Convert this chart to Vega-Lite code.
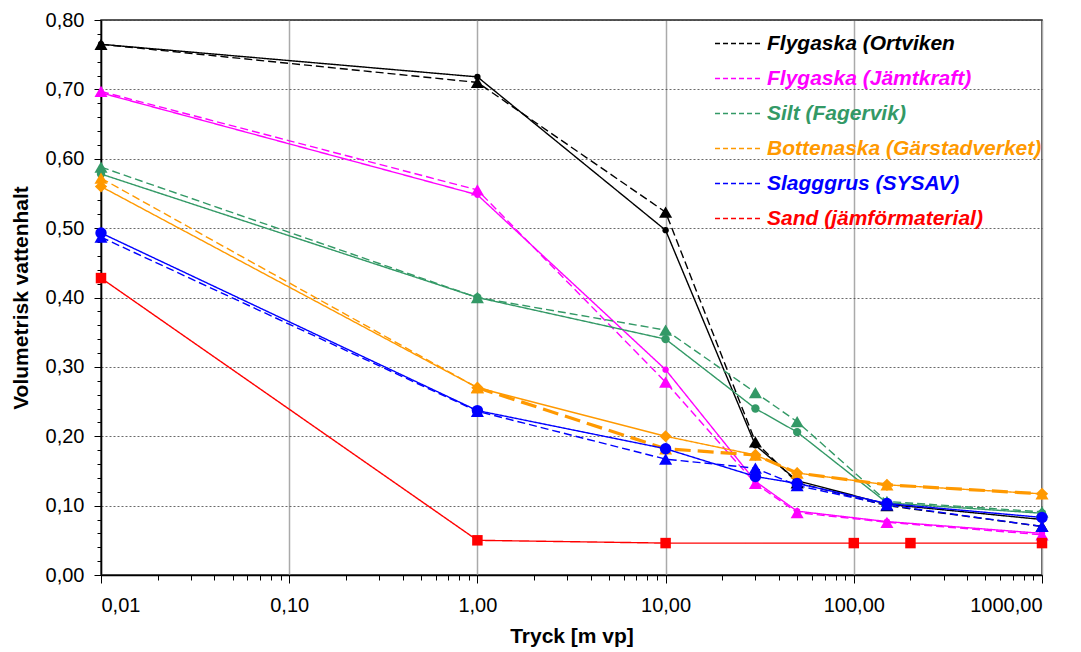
{
  "$schema": "https://vega.github.io/schema/vega-lite/v6.json",
  "width": 941,
  "height": 555,
  "autosize": "none",
  "padding": {"left": 101, "top": 20, "right": 39, "bottom": 77},
  "background": "white",
  "config": {"view": {"stroke": "#222", "strokeWidth": 1.5}, "font": "Liberation Sans"},
  "data": {"values": [
    {"m": "Flygaska (Ortviken", "l": "h", "tryck": 0.01, "theta": 0.765},
    {"m": "Flygaska (Ortviken", "l": "h", "tryck": 1, "theta": 0.718},
    {"m": "Flygaska (Ortviken", "l": "h", "tryck": 10, "theta": 0.497},
    {"m": "Flygaska (Ortviken", "l": "h", "tryck": 30, "theta": 0.187},
    {"m": "Flygaska (Ortviken", "l": "h", "tryck": 50, "theta": 0.136},
    {"m": "Flygaska (Ortviken", "l": "h", "tryck": 150, "theta": 0.102},
    {"m": "Flygaska (Ortviken", "l": "h", "tryck": 1000, "theta": 0.08},
    {"m": "Flygaska (Ortviken", "l": "s", "tryck": 0.01, "theta": 0.765},
    {"m": "Flygaska (Ortviken", "l": "s", "tryck": 1, "theta": 0.71},
    {"m": "Flygaska (Ortviken", "l": "s", "tryck": 10, "theta": 0.523},
    {"m": "Flygaska (Ortviken", "l": "s", "tryck": 30, "theta": 0.192},
    {"m": "Flygaska (Ortviken", "l": "s", "tryck": 50, "theta": 0.133},
    {"m": "Flygaska (Ortviken", "l": "s", "tryck": 150, "theta": 0.1},
    {"m": "Flygaska (Ortviken", "l": "s", "tryck": 1000, "theta": 0.07},
    {"m": "Flygaska (Jämtkraft)", "l": "h", "tryck": 0.01, "theta": 0.695},
    {"m": "Flygaska (Jämtkraft)", "l": "h", "tryck": 1, "theta": 0.548},
    {"m": "Flygaska (Jämtkraft)", "l": "h", "tryck": 10, "theta": 0.296},
    {"m": "Flygaska (Jämtkraft)", "l": "h", "tryck": 30, "theta": 0.135},
    {"m": "Flygaska (Jämtkraft)", "l": "h", "tryck": 50, "theta": 0.092},
    {"m": "Flygaska (Jämtkraft)", "l": "h", "tryck": 150, "theta": 0.077},
    {"m": "Flygaska (Jämtkraft)", "l": "h", "tryck": 1000, "theta": 0.06},
    {"m": "Flygaska (Jämtkraft)", "l": "s", "tryck": 0.01, "theta": 0.697},
    {"m": "Flygaska (Jämtkraft)", "l": "s", "tryck": 1, "theta": 0.555},
    {"m": "Flygaska (Jämtkraft)", "l": "s", "tryck": 10, "theta": 0.278},
    {"m": "Flygaska (Jämtkraft)", "l": "s", "tryck": 30, "theta": 0.132},
    {"m": "Flygaska (Jämtkraft)", "l": "s", "tryck": 50, "theta": 0.09},
    {"m": "Flygaska (Jämtkraft)", "l": "s", "tryck": 150, "theta": 0.076},
    {"m": "Flygaska (Jämtkraft)", "l": "s", "tryck": 1000, "theta": 0.058},
    {"m": "Silt (Fagervik)", "l": "h", "tryck": 0.01, "theta": 0.578},
    {"m": "Silt (Fagervik)", "l": "h", "tryck": 1, "theta": 0.4},
    {"m": "Silt (Fagervik)", "l": "h", "tryck": 10, "theta": 0.34},
    {"m": "Silt (Fagervik)", "l": "h", "tryck": 30, "theta": 0.24},
    {"m": "Silt (Fagervik)", "l": "h", "tryck": 50, "theta": 0.206},
    {"m": "Silt (Fagervik)", "l": "h", "tryck": 150, "theta": 0.104},
    {"m": "Silt (Fagervik)", "l": "h", "tryck": 1000, "theta": 0.089},
    {"m": "Silt (Fagervik)", "l": "s", "tryck": 0.01, "theta": 0.588},
    {"m": "Silt (Fagervik)", "l": "s", "tryck": 1, "theta": 0.4},
    {"m": "Silt (Fagervik)", "l": "s", "tryck": 10, "theta": 0.353},
    {"m": "Silt (Fagervik)", "l": "s", "tryck": 30, "theta": 0.263},
    {"m": "Silt (Fagervik)", "l": "s", "tryck": 50, "theta": 0.221},
    {"m": "Silt (Fagervik)", "l": "s", "tryck": 150, "theta": 0.106},
    {"m": "Silt (Fagervik)", "l": "s", "tryck": 1000, "theta": 0.091},
    {"m": "Bottenaska (Gärstadverket)", "l": "h", "tryck": 0.01, "theta": 0.56},
    {"m": "Bottenaska (Gärstadverket)", "l": "h", "tryck": 1, "theta": 0.27},
    {"m": "Bottenaska (Gärstadverket)", "l": "h", "tryck": 10, "theta": 0.2},
    {"m": "Bottenaska (Gärstadverket)", "l": "h", "tryck": 30, "theta": 0.173},
    {"m": "Bottenaska (Gärstadverket)", "l": "h", "tryck": 50, "theta": 0.147},
    {"m": "Bottenaska (Gärstadverket)", "l": "h", "tryck": 150, "theta": 0.13},
    {"m": "Bottenaska (Gärstadverket)", "l": "h", "tryck": 1000, "theta": 0.117},
    {"m": "Bottenaska (Gärstadverket)", "l": "s", "tryck": 0.01, "theta": 0.572},
    {"m": "Bottenaska (Gärstadverket)", "l": "s", "tryck": 1, "theta": 0.27},
    {"m": "Bottenaska (Gärstadverket)", "l": "t", "tryck": 1, "theta": 0.27},
    {"m": "Bottenaska (Gärstadverket)", "l": "t", "tryck": 10, "theta": 0.182},
    {"m": "Bottenaska (Gärstadverket)", "l": "t", "tryck": 30, "theta": 0.173},
    {"m": "Bottenaska (Gärstadverket)", "l": "t", "tryck": 50, "theta": 0.147},
    {"m": "Bottenaska (Gärstadverket)", "l": "t", "tryck": 150, "theta": 0.13},
    {"m": "Bottenaska (Gärstadverket)", "l": "t", "tryck": 1000, "theta": 0.117},
    {"m": "Slagggrus (SYSAV)", "l": "h", "tryck": 0.01, "theta": 0.493},
    {"m": "Slagggrus (SYSAV)", "l": "h", "tryck": 1, "theta": 0.237},
    {"m": "Slagggrus (SYSAV)", "l": "h", "tryck": 10, "theta": 0.182},
    {"m": "Slagggrus (SYSAV)", "l": "h", "tryck": 30, "theta": 0.142},
    {"m": "Slagggrus (SYSAV)", "l": "h", "tryck": 50, "theta": 0.132},
    {"m": "Slagggrus (SYSAV)", "l": "h", "tryck": 150, "theta": 0.103},
    {"m": "Slagggrus (SYSAV)", "l": "h", "tryck": 1000, "theta": 0.083},
    {"m": "Slagggrus (SYSAV)", "l": "s", "tryck": 0.01, "theta": 0.487},
    {"m": "Slagggrus (SYSAV)", "l": "s", "tryck": 1, "theta": 0.236},
    {"m": "Slagggrus (SYSAV)", "l": "s", "tryck": 10, "theta": 0.167},
    {"m": "Slagggrus (SYSAV)", "l": "s", "tryck": 30, "theta": 0.154},
    {"m": "Slagggrus (SYSAV)", "l": "s", "tryck": 50, "theta": 0.129},
    {"m": "Slagggrus (SYSAV)", "l": "s", "tryck": 150, "theta": 0.101},
    {"m": "Slagggrus (SYSAV)", "l": "s", "tryck": 1000, "theta": 0.07},
    {"m": "Sand (jämförmaterial)", "l": "h", "tryck": 0.01, "theta": 0.428},
    {"m": "Sand (jämförmaterial)", "l": "h", "tryck": 1, "theta": 0.05},
    {"m": "Sand (jämförmaterial)", "l": "h", "tryck": 10, "theta": 0.046},
    {"m": "Sand (jämförmaterial)", "l": "h", "tryck": 100, "theta": 0.046},
    {"m": "Sand (jämförmaterial)", "l": "h", "tryck": 200, "theta": 0.046},
    {"m": "Sand (jämförmaterial)", "l": "h", "tryck": 1000, "theta": 0.046}
  ]},
  "resolve": {"axis": {"x": "independent", "y": "independent"}},
  "encoding": {
    "color": {
      "field": "m",
      "type": "nominal",
      "scale": {
        "domain": ["Flygaska (Ortviken", "Flygaska (Jämtkraft)", "Silt (Fagervik)", "Bottenaska (Gärstadverket)", "Slagggrus (SYSAV)", "Sand (jämförmaterial)"],
        "range": ["#000000", "#FF00FF", "#339966", "#FF9900", "#0000FF", "#FF0000"]
      },
      "legend": {
        "orient": "none",
        "legendX": 613,
        "legendY": -1,
        "title": null,
        "symbolType": "stroke",
        "symbolSize": 2209,
        "symbolStrokeWidth": 1.5,
        "symbolDash": [5, 3],
        "labelFontSize": 21,
        "labelFont": "Liberation Sans",
        "labelFontStyle": "italic",
        "labelFontWeight": "bold",
        "labelOffset": 4,
        "labelLimit": 400,
        "rowPadding": 0,
        "encode": {
          "labels": {"update": {"fill": {"scale": "color", "field": "value"}}},
          "symbols": {"update": {"stroke": {"scale": "color", "field": "value"}, "fill": {"value": "transparent"}, "strokeDash": {"value": [5, 3]}, "strokeWidth": {"value": 1.5}}}
        }
      }
    }
  },
  "layer": [
    {
      "mark": {"type": "line"},
      "encoding": {
        "x": {
          "field": "tryck", "type": "quantitative",
          "scale": {"type": "log", "domain": [0.01, 1000], "nice": false},
          "axis": {
            "values": [0.01, 0.1, 1, 10, 100, 1000],
            "labelExpr": "datum.value < 0.05 ? '0,01' : replace(format(datum.value, '.2f'), '.', ',')",
            "labelFontSize": 20, "labelColor": "black", "labelPadding": 12,
            "tickSize": 8, "tickColor": "black", "domainColor": "black", "domainWidth": 1.5,
            "grid": true, "gridColor": "#aaa", "gridWidth": 1.5,
            "title": "Tryck [m vp]", "titleFontSize": 21, "titleFontWeight": "bold", "titleColor": "black", "titlePadding": 10
          }
        },
        "y": {
          "field": "theta", "type": "quantitative",
          "scale": {"domain": [0, 0.8], "nice": false, "zero": true},
          "axis": {
            "values": [0, 0.1, 0.2, 0.3, 0.4, 0.5, 0.6, 0.7, 0.8],
            "labelExpr": "replace(format(datum.value, '.2f'), '.', ',')",
            "labelFontSize": 20, "labelColor": "black", "labelPadding": 10,
            "tickSize": 7, "tickColor": "black", "domainColor": "black", "domainWidth": 1.5,
            "grid": true, "gridColor": "#444", "gridDash": [2, 2], "gridWidth": 0.8,
            "title": "Volumetrisk vattenhalt", "titleFontSize": 21, "titleFontWeight": "bold", "titleColor": "black", "titlePadding": 14
          }
        },
        "detail": {"field": "l"},
        "strokeDash": {
          "condition": [
            {"test": "datum.l === 't'", "value": [16, 7]},
            {"test": "datum.l === 's'", "value": [8, 4]}
          ],
          "value": [1, 0]
        },
        "strokeWidth": {
          "condition": [
            {"test": "datum.l === 't'", "value": 3.2}
          ],
          "value": 1.4
        }
      }
    },
    {
      "mark": {"type": "point", "filled": true, "opacity": 1, "strokeWidth": 0},
      "encoding": {
        "x": {
          "field": "tryck", "type": "quantitative",
          "axis": {
            "values": [0.02, 0.03, 0.04, 0.05, 0.06, 0.07, 0.08, 0.09, 0.2, 0.3, 0.4, 0.5, 0.6, 0.7, 0.8, 0.9, 2, 3, 4, 5, 6, 7, 8, 9, 20, 30, 40, 50, 60, 70, 80, 90, 200, 300, 400, 500, 600, 700, 800, 900],
            "labels": false, "domain": false, "grid": false, "title": null,
            "tickSize": 5, "tickColor": "black", "orient": "bottom"
          }
        },
        "y": {
          "field": "theta", "type": "quantitative",
          "axis": {
            "values": [0.02, 0.04, 0.06, 0.08, 0.12, 0.14, 0.16, 0.18, 0.22, 0.24, 0.26, 0.28, 0.32, 0.34, 0.36, 0.38, 0.42, 0.44, 0.46, 0.48, 0.52, 0.54, 0.56, 0.58, 0.62, 0.64, 0.66, 0.68, 0.72, 0.74, 0.76, 0.78],
            "labels": false, "domain": false, "grid": false, "title": null,
            "tickSize": 4, "tickColor": "black", "orient": "left"
          }
        },
        "shape": {
          "condition": [
            {"test": "datum.m === 'Bottenaska (Gärstadverket)' && datum.l === 'h'", "value": "diamond"},
            {"test": "datum.m === 'Sand (jämförmaterial)'", "value": "square"},
            {"test": "datum.l === 's' || datum.l === 't'", "value": "triangle-up"}
          ],
          "value": "circle"
        },
        "size": {
          "condition": [
            {"test": "datum.m === 'Bottenaska (Gärstadverket)' && datum.l === 'h'", "value": 150},
            {"test": "datum.m === 'Sand (jämförmaterial)'", "value": 110},
            {"test": "datum.l === 's' || datum.l === 't'", "value": 170},
            {"test": "datum.m === 'Slagggrus (SYSAV)'", "value": 130},
            {"test": "datum.m === 'Silt (Fagervik)'", "value": 70}
          ],
          "value": 40
        }
      }
    }
  ]
}
